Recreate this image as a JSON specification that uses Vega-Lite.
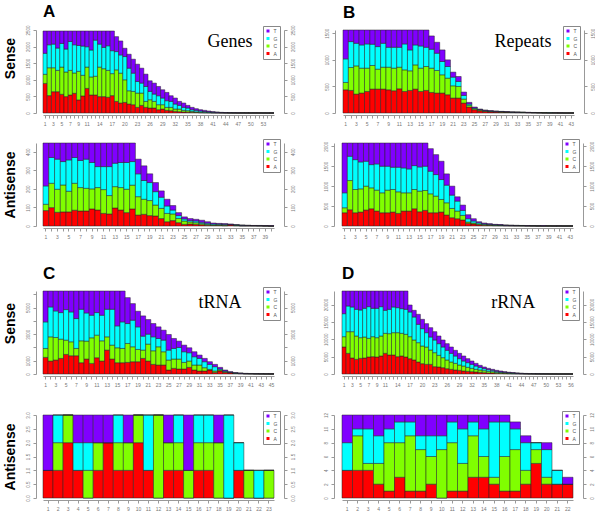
{
"$schema": "https://vega.github.io/schema/vega-lite/v6.json",
"padding": {"left": 3, "top": 2, "right": 0, "bottom": 0},
"background": "white",
"config": {
 "view": {"stroke": null},
 "font": "Liberation Sans",
 "axis": {"domainColor": "#999", "tickColor": "#999", "labelColor": "#777", "labelFont": "Liberation Sans", "grid": false, "tickSize": 3, "domainWidth": 1, "tickWidth": 1},
 "axisX": {"labelFontSize": 5, "labelAngle": 0, "offset": 2, "labelPadding": 3, "title": null, "labelOverlap": false},
 "axisY": {"labelFontSize": 4.5, "labelAngle": -90, "labelPadding": 3, "labelOverlap": false},
 "axisLeft": {"offset": 7, "labelBaseline": "bottom", "labelAlign": "center", "titleFontSize": 14, "titleFontWeight": "bold", "titleColor": "black", "titlePadding": 8, "titleFont": "Liberation Sans"},
 "axisRight": {"offset": 10, "labelBaseline": "top", "labelAlign": "center"},
 "legend": {"orient": "none", "legendX": 220, "legendY": -4, "symbolType": "square", "symbolSize": 9, "labelFontSize": 5, "labelColor": "#555", "labelOffset": 3, "padding": 2.5, "rowPadding": 1.5, "strokeColor": "#888", "fillColor": "white", "symbolStrokeWidth": 0},
 "title": {"anchor": "start", "frame": "group", "fontSize": 17, "fontWeight": "bold", "font": "Liberation Sans", "color": "black", "offset": 4}
},
"datasets": {
 "as": [
  {"p":1,"A":890,"C":276,"G":632,"T":672},{"p":2,"A":524,"C":839,"G":692,"T":415},{"p":3,"A":642,"C":721,"G":712,"T":395},{"p":4,"A":642,"C":642,"G":672,"T":514},{"p":5,"A":563,"C":820,"G":712,"T":375},{"p":6,"A":494,"C":741,"G":692,"T":543},{"p":7,"A":543,"C":741,"G":870,"T":316},{"p":8,"A":593,"C":612,"G":850,"T":415},{"p":9,"A":395,"C":860,"G":780,"T":435},{"p":10,"A":514,"C":622,"G":880,"T":454},
  {"p":11,"A":741,"C":642,"G":613,"T":474},{"p":12,"A":543,"C":544,"G":810,"T":573},{"p":13,"A":543,"C":564,"G":1087,"T":276},{"p":14,"A":494,"C":889,"G":692,"T":395},{"p":15,"A":494,"C":840,"G":642,"T":494},{"p":16,"A":474,"C":810,"G":741,"T":445},{"p":17,"A":524,"C":662,"G":691,"T":593},{"p":18,"A":350,"C":950,"G":550,"T":450},{"p":19,"A":300,"C":900,"G":550,"T":420},{"p":20,"A":320,"C":680,"G":700,"T":250},
  {"p":21,"A":270,"C":400,"G":680,"T":420},{"p":22,"A":250,"C":400,"G":550,"T":420},{"p":23,"A":170,"C":430,"G":350,"T":520},{"p":24,"A":230,"C":370,"G":300,"T":450},{"p":25,"A":170,"C":180,"G":450,"T":370},{"p":26,"A":150,"C":250,"G":250,"T":320},{"p":27,"A":150,"C":200,"G":220,"T":330},{"p":28,"A":100,"C":150,"G":270,"T":280},{"p":29,"A":120,"C":130,"G":200,"T":250},{"p":30,"A":80,"C":90,"G":200,"T":250},
  {"p":31,"A":70,"C":100,"G":180,"T":170},{"p":32,"A":50,"C":70,"G":150,"T":180},{"p":33,"A":40,"C":80,"G":110,"T":120},{"p":34,"A":30,"C":50,"G":90,"T":130},{"p":35,"A":25,"C":45,"G":80,"T":80},{"p":36,"A":20,"C":30,"G":50,"T":70},{"p":37,"A":15,"C":20,"G":45,"T":50},{"p":38,"A":10,"C":15,"G":35,"T":40},{"p":39,"A":8,"C":12,"G":25,"T":35},{"p":40,"A":6,"C":9,"G":20,"T":25},
  {"p":41,"A":5,"C":5,"G":15,"T":15},{"p":42,"A":4,"C":4,"G":10,"T":12},{"p":43,"A":3,"C":3,"G":6,"T":8},{"p":44,"A":2,"C":2,"G":4,"T":7},{"p":45,"A":1,"C":2,"G":3,"T":4},{"p":46,"A":1,"C":1,"G":2,"T":3},{"p":47,"A":1,"C":0,"G":1,"T":3},{"p":48,"A":1,"C":1,"G":1,"T":1},{"p":49,"A":1,"C":0,"G":1,"T":1},{"p":50,"A":0,"C":1,"G":1,"T":1},
  {"p":51,"A":1,"C":0,"G":0,"T":1},{"p":52,"A":0,"C":1,"G":0,"T":1},{"p":53,"A":0,"C":0,"G":1,"T":1},{"p":54,"A":0,"C":0,"G":0,"T":1},{"p":55,"A":0,"C":0,"G":0,"T":1}
 ],
 "aa": [
  {"p":1,"A":83,"C":34,"G":99,"T":231},{"p":2,"A":99,"C":131,"G":139,"T":78},{"p":3,"A":74,"C":124,"G":162,"T":87},{"p":4,"A":76,"C":145,"G":126,"T":100},{"p":5,"A":76,"C":111,"G":169,"T":91},{"p":6,"A":85,"C":145,"G":139,"T":78},{"p":7,"A":81,"C":126,"G":146,"T":94},{"p":8,"A":81,"C":122,"G":157,"T":87},{"p":9,"A":92,"C":108,"G":142,"T":105},{"p":10,"A":86,"C":121,"G":113,"T":127},
  {"p":11,"A":68,"C":128,"G":124,"T":127},{"p":12,"A":65,"C":99,"G":156,"T":127},{"p":13,"A":97,"C":115,"G":126,"T":109},{"p":14,"A":86,"C":121,"G":135,"T":105},{"p":15,"A":72,"C":126,"G":144,"T":105},{"p":16,"A":92,"C":128,"G":127,"T":100},{"p":17,"A":59,"C":99,"G":123,"T":79},{"p":18,"A":63,"C":81,"G":101,"T":79},{"p":19,"A":56,"C":81,"G":97,"T":47},{"p":20,"A":54,"C":59,"G":72,"T":49},
  {"p":21,"A":40,"C":55,"G":60,"T":34},{"p":22,"A":23,"C":45,"G":40,"T":36},{"p":23,"A":29,"C":36,"G":21,"T":24},{"p":24,"A":18,"C":23,"G":15,"T":16},{"p":25,"A":9,"C":18,"G":11,"T":11},{"p":26,"A":11,"C":11,"G":7,"T":11},{"p":27,"A":9,"C":9,"G":9,"T":9},{"p":28,"A":7,"C":6,"G":7,"T":11},{"p":29,"A":4,"C":5,"G":6,"T":8},{"p":30,"A":3,"C":3,"G":5,"T":5},
  {"p":31,"A":3,"C":3,"G":4,"T":4},{"p":32,"A":2,"C":3,"G":4,"T":4},{"p":33,"A":6,"C":1,"G":1,"T":3},{"p":34,"A":2,"C":2,"G":2,"T":1},{"p":35,"A":1,"C":1,"G":2,"T":1},{"p":36,"A":1,"C":1,"G":1,"T":1},{"p":37,"A":1,"C":1,"G":0,"T":1},{"p":38,"A":1,"C":0,"G":1,"T":1},{"p":39,"A":0,"C":1,"G":0,"T":1},{"p":40,"A":0,"C":0,"G":0,"T":1}
 ],
 "bs": [
  {"p":1,"A":437,"C":138,"G":444,"T":543},{"p":2,"A":425,"C":431,"G":488,"T":218},{"p":3,"A":356,"C":531,"G":425,"T":250},{"p":4,"A":375,"C":469,"G":437,"T":281},{"p":5,"A":406,"C":438,"G":456,"T":262},{"p":6,"A":450,"C":444,"G":400,"T":268},{"p":7,"A":450,"C":375,"G":425,"T":312},{"p":8,"A":450,"C":412,"G":450,"T":250},{"p":9,"A":437,"C":425,"G":375,"T":325},{"p":10,"A":419,"C":425,"G":393,"T":325},
  {"p":11,"A":456,"C":406,"G":375,"T":325},{"p":12,"A":406,"C":406,"G":488,"T":262},{"p":13,"A":425,"C":369,"G":393,"T":375},{"p":14,"A":450,"C":456,"G":375,"T":281},{"p":15,"A":406,"C":438,"G":418,"T":300},{"p":16,"A":425,"C":450,"G":362,"T":325},{"p":17,"A":387,"C":457,"G":356,"T":250},{"p":18,"A":375,"C":425,"G":325,"T":206},{"p":19,"A":375,"C":344,"G":250,"T":218},{"p":20,"A":344,"C":312,"G":219,"T":125},
  {"p":21,"A":281,"C":231,"G":163,"T":94},{"p":22,"A":281,"C":219,"G":94,"T":93},{"p":23,"A":187,"C":75,"G":69,"T":63},{"p":24,"A":112,"C":32,"G":25,"T":31},{"p":25,"A":62,"C":19,"G":13,"T":18},{"p":26,"A":40,"C":15,"G":10,"T":10},{"p":27,"A":28,"C":10,"G":10,"T":8},{"p":28,"A":22,"C":8,"G":7,"T":7},{"p":29,"A":18,"C":7,"G":6,"T":6},{"p":30,"A":15,"C":6,"G":5,"T":5},
  {"p":31,"A":12,"C":5,"G":4,"T":4},{"p":32,"A":9,"C":4,"G":4,"T":3},{"p":33,"A":8,"C":4,"G":3,"T":3},{"p":34,"A":7,"C":3,"G":3,"T":2},{"p":35,"A":5,"C":3,"G":2,"T":2},{"p":36,"A":4,"C":2,"G":2,"T":2},{"p":37,"A":3,"C":2,"G":1,"T":1},{"p":38,"A":2,"C":1,"G":1,"T":1},{"p":39,"A":1,"C":1,"G":1,"T":1},{"p":40,"A":1,"C":1,"G":0,"T":1},
  {"p":41,"A":1,"C":0,"G":0,"T":1},{"p":42,"A":0,"C":0,"G":0,"T":1},{"p":43,"A":0,"C":0,"G":0,"T":1}
 ],
 "ba": [
  {"p":1,"A":333,"C":125,"G":375,"T":1250},{"p":2,"A":408,"C":733,"G":609,"T":333},{"p":3,"A":333,"C":583,"G":750,"T":417},{"p":4,"A":350,"C":583,"G":675,"T":475},{"p":5,"A":400,"C":600,"G":625,"T":458},{"p":6,"A":433,"C":525,"G":583,"T":542},{"p":7,"A":375,"C":525,"G":658,"T":525},{"p":8,"A":333,"C":500,"G":667,"T":583},{"p":9,"A":333,"C":567,"G":600,"T":583},{"p":10,"A":350,"C":566,"G":559,"T":608},
  {"p":11,"A":316,"C":542,"G":617,"T":608},{"p":12,"A":375,"C":458,"G":625,"T":625},{"p":13,"A":375,"C":458,"G":600,"T":650},{"p":14,"A":433,"C":483,"G":600,"T":567},{"p":15,"A":358,"C":517,"G":608,"T":600},{"p":16,"A":392,"C":499,"G":609,"T":583},{"p":17,"A":333,"C":475,"G":567,"T":566},{"p":18,"A":333,"C":417,"G":541,"T":500},{"p":19,"A":350,"C":316,"G":500,"T":459},{"p":20,"A":275,"C":308,"G":442,"T":283},
  {"p":21,"A":208,"C":233,"G":334,"T":225},{"p":22,"A":183,"C":192,"G":250,"T":108},{"p":23,"A":150,"C":116,"G":125,"T":134},{"p":24,"A":67,"C":33,"G":83,"T":100},{"p":25,"A":50,"C":25,"G":50,"T":58},{"p":26,"A":30,"C":20,"G":30,"T":28},{"p":27,"A":20,"C":15,"G":20,"T":20},{"p":28,"A":15,"C":12,"G":15,"T":16},{"p":29,"A":10,"C":10,"G":11,"T":11},{"p":30,"A":9,"C":8,"G":9,"T":9},
  {"p":31,"A":6,"C":6,"G":7,"T":6},{"p":32,"A":5,"C":5,"G":5,"T":5},{"p":33,"A":4,"C":4,"G":5,"T":4},{"p":34,"A":4,"C":3,"G":4,"T":3},{"p":35,"A":3,"C":2,"G":3,"T":2},{"p":36,"A":2,"C":2,"G":2,"T":1},{"p":37,"A":1,"C":1,"G":2,"T":1},{"p":38,"A":1,"C":1,"G":1,"T":1},{"p":39,"A":1,"C":1,"G":0,"T":1},{"p":40,"A":0,"C":1,"G":0,"T":1},
  {"p":41,"A":1,"C":0,"G":0,"T":1},{"p":42,"A":0,"C":0,"G":0,"T":1},{"p":43,"A":0,"C":0,"G":0,"T":1}
 ],
 "cs": [
  {"p":1,"A":1250,"C":675,"G":2000,"T":2325},{"p":2,"A":975,"C":1825,"G":2250,"T":1200},{"p":3,"A":1050,"C":1700,"G":2000,"T":1500},{"p":4,"A":1175,"C":1450,"G":2000,"T":1625},{"p":5,"A":1475,"C":1075,"G":2300,"T":1400},{"p":6,"A":1375,"C":1050,"G":2250,"T":1575},{"p":7,"A":1375,"C":550,"G":2250,"T":2075},{"p":8,"A":850,"C":1650,"G":2375,"T":1375},{"p":9,"A":1125,"C":1350,"G":2125,"T":1650},{"p":10,"A":800,"C":1925,"G":1700,"T":1825},
  {"p":11,"A":1225,"C":1700,"G":1700,"T":1625},{"p":12,"A":975,"C":1525,"G":1925,"T":1825},{"p":13,"A":1800,"C":1000,"G":2075,"T":1375},{"p":14,"A":1125,"C":1050,"G":2700,"T":1375},{"p":15,"A":850,"C":1125,"G":1650,"T":2625},{"p":16,"A":850,"C":1075,"G":2000,"T":2325},{"p":17,"A":875,"C":1425,"G":1500,"T":1950},{"p":18,"A":925,"C":1125,"G":2000,"T":1250},{"p":19,"A":925,"C":925,"G":1700,"T":1175},{"p":20,"A":1175,"C":625,"G":1050,"T":1525},
  {"p":21,"A":975,"C":1275,"G":750,"T":1100},{"p":22,"A":725,"C":1025,"G":1050,"T":1000},{"p":23,"A":675,"C":1375,"G":625,"T":875},{"p":24,"A":675,"C":1000,"G":875,"T":750},{"p":25,"A":300,"C":750,"G":750,"T":1175},{"p":26,"A":425,"C":700,"G":800,"T":750},{"p":27,"A":375,"C":750,"G":875,"T":475},{"p":28,"A":375,"C":500,"G":800,"T":500},{"p":29,"A":500,"C":475,"G":625,"T":375},{"p":30,"A":300,"C":375,"G":625,"T":375},
  {"p":31,"A":225,"C":450,"G":500,"T":250},{"p":32,"A":225,"C":250,"G":450,"T":250},{"p":33,"A":300,"C":50,"G":375,"T":200},{"p":34,"A":125,"C":100,"G":325,"T":175},{"p":35,"A":225,"C":75,"G":75,"T":125},{"p":36,"A":125,"C":50,"G":50,"T":75},{"p":37,"A":90,"C":20,"G":25,"T":40},{"p":38,"A":40,"C":20,"G":20,"T":20},{"p":39,"A":25,"C":15,"G":15,"T":20},{"p":40,"A":15,"C":10,"G":10,"T":15},
  {"p":41,"A":12,"C":8,"G":10,"T":10},{"p":42,"A":8,"C":6,"G":8,"T":8},{"p":43,"A":6,"C":5,"G":5,"T":6},{"p":44,"A":4,"C":3,"G":4,"T":4},{"p":45,"A":3,"C":2,"G":2,"T":3}
 ],
 "ds": [
  {"p":1,"A":7776,"C":2976,"G":6624,"T":6524},{"p":2,"A":5952,"C":6240,"G":7392,"T":4316},{"p":3,"A":4608,"C":7584,"G":7104,"T":4604},{"p":4,"A":4224,"C":6720,"G":7680,"T":5276},{"p":5,"A":4512,"C":5952,"G":7968,"T":5468},{"p":6,"A":4608,"C":6048,"G":8256,"T":4988},{"p":7,"A":4896,"C":5376,"G":9120,"T":4508},{"p":8,"A":4992,"C":5760,"G":8160,"T":4988},{"p":9,"A":4896,"C":5568,"G":8448,"T":4988},{"p":10,"A":5184,"C":5760,"G":8448,"T":4508},
  {"p":11,"A":5952,"C":5760,"G":6624,"T":5564},{"p":12,"A":5472,"C":6144,"G":7008,"T":5276},{"p":13,"A":5472,"C":6432,"G":7392,"T":4604},{"p":14,"A":4992,"C":6912,"G":7200,"T":4796},{"p":15,"A":5184,"C":6528,"G":7104,"T":5084},{"p":16,"A":4896,"C":6528,"G":7200,"T":5276},{"p":17,"A":4416,"C":6336,"G":7104,"T":2016},{"p":18,"A":4032,"C":5760,"G":6624,"T":1920},{"p":19,"A":3456,"C":5568,"G":5280,"T":2880},{"p":20,"A":2976,"C":5088,"G":4992,"T":2688},
  {"p":21,"A":2784,"C":4992,"G":4128,"T":2592},{"p":22,"A":2784,"C":4128,"G":3744,"T":2688},{"p":23,"A":2112,"C":4032,"G":3648,"T":2400},{"p":24,"A":2016,"C":3360,"G":3360,"T":2208},{"p":25,"A":1824,"C":2880,"G":3072,"T":2016},{"p":26,"A":1536,"C":2496,"G":2784,"T":1920},{"p":27,"A":1344,"C":2112,"G":2496,"T":1824},{"p":28,"A":1152,"C":1920,"G":2112,"T":1632},{"p":29,"A":1056,"C":1536,"G":1824,"T":1536},{"p":30,"A":864,"C":1440,"G":1440,"T":1440},
  {"p":31,"A":768,"C":1152,"G":1344,"T":1152},{"p":32,"A":672,"C":960,"G":1152,"T":960},{"p":33,"A":576,"C":768,"G":960,"T":768},{"p":34,"A":480,"C":672,"G":768,"T":576},{"p":35,"A":384,"C":576,"G":576,"T":480},{"p":36,"A":288,"C":480,"G":480,"T":384},{"p":37,"A":288,"C":384,"G":384,"T":288},{"p":38,"A":192,"C":288,"G":288,"T":288},{"p":39,"A":160,"C":240,"G":200,"T":264},{"p":40,"A":130,"C":190,"G":160,"T":192},
  {"p":41,"A":100,"C":140,"G":130,"T":150},{"p":42,"A":80,"C":110,"G":100,"T":110},{"p":43,"A":60,"C":80,"G":80,"T":80},{"p":44,"A":45,"C":55,"G":60,"T":70},{"p":45,"A":35,"C":45,"G":40,"T":50},{"p":46,"A":25,"C":35,"G":30,"T":40},{"p":47,"A":20,"C":25,"G":25,"T":30},{"p":48,"A":15,"C":20,"G":20,"T":25},{"p":49,"A":12,"C":16,"G":14,"T":18},{"p":50,"A":10,"C":12,"G":11,"T":12},
  {"p":51,"A":8,"C":8,"G":8,"T":8},{"p":52,"A":5,"C":5,"G":5,"T":5},{"p":53,"A":3,"C":3,"G":3,"T":3},{"p":54,"A":2,"C":2,"G":2,"T":2},{"p":55,"A":1,"C":1,"G":1,"T":2},{"p":56,"A":0,"C":1,"G":1,"T":1}
 ],
 "ca": [
  {"p":1,"A":1,"C":0,"G":0,"T":2},{"p":2,"A":1,"C":1,"G":1,"T":0},{"p":3,"A":2,"C":1,"G":0,"T":0},{"p":4,"A":1,"C":0,"G":1,"T":1},{"p":5,"A":0,"C":1,"G":1,"T":1},{"p":6,"A":1,"C":1,"G":0,"T":1},{"p":7,"A":2,"C":0,"G":0,"T":1},{"p":8,"A":1,"C":1,"G":1,"T":0},{"p":9,"A":1,"C":1,"G":0,"T":1},{"p":10,"A":2,"C":1,"G":0,"T":0},
  {"p":11,"A":1,"C":0,"G":2,"T":0},{"p":12,"A":0,"C":3,"G":0,"T":0},{"p":13,"A":1,"C":1,"G":0,"T":1},{"p":14,"A":1,"C":1,"G":1,"T":0},{"p":15,"A":0,"C":1,"G":0,"T":2},{"p":16,"A":1,"C":1,"G":1,"T":0},{"p":17,"A":1,"C":1,"G":1,"T":0},{"p":18,"A":0,"C":2,"G":0,"T":1},{"p":19,"A":0,"C":0,"G":3,"T":0},{"p":20,"A":1,"C":0,"G":1,"T":0},
  {"p":21,"A":0,"C":1,"G":0,"T":0},{"p":22,"A":0,"C":0,"G":1,"T":0},{"p":23,"A":0,"C":1,"G":0,"T":0}
 ],
 "da": [
  {"p":1,"A":4,"C":0,"G":4,"T":4},{"p":2,"A":4,"C":5,"G":1,"T":2},{"p":3,"A":4,"C":1,"G":5,"T":2},{"p":4,"A":2,"C":3,"G":4,"T":3},{"p":5,"A":1,"C":7,"G":2,"T":2},{"p":6,"A":3,"C":5,"G":3,"T":1},{"p":7,"A":1,"C":8,"G":2,"T":1},{"p":8,"A":1,"C":6,"G":2,"T":3},{"p":9,"A":2,"C":4,"G":3,"T":3},{"p":10,"A":0,"C":7,"G":2,"T":3},
  {"p":11,"A":1,"C":7,"G":3,"T":1},{"p":12,"A":1,"C":4,"G":5,"T":2},{"p":13,"A":3,"C":6,"G":2,"T":1},{"p":14,"A":3,"C":3,"G":4,"T":2},{"p":15,"A":2,"C":1,"G":8,"T":1},{"p":16,"A":1,"C":5,"G":5,"T":1},{"p":17,"A":1,"C":6,"G":3,"T":1},{"p":18,"A":2,"C":2,"G":4,"T":1},{"p":19,"A":5,"C":2,"G":1,"T":0},{"p":20,"A":2,"C":1,"G":4,"T":1},
  {"p":21,"A":2,"C":0,"G":2,"T":0},{"p":22,"A":2,"C":0,"G":0,"T":1}
 ]
},
"resolve": {"scale": {"color": "independent"}, "legend": {"color": "independent"}},
"spacing": 25,
"vconcat": [
 {"resolve": {"scale": {"color": "independent"}, "legend": {"color": "independent"}},
  "spacing": 12,
  "vconcat": [
   {"resolve": {"scale": {"color": "independent"}, "legend": {"color": "independent"}},
    "spacing": 28,
    "hconcat": [
     {"width": 231, "height": 83, "title": {"text": "A"}, "data": {"name": "as"},
      "layer": [
       {"transform": [{"fold": ["A","C","G","T"], "as": ["base","n"]}],
        "mark": {"type": "bar", "stroke": "#222", "strokeWidth": 0.5},
        "encoding": {
         "x": {"field": "p", "type": "ordinal", "scale": {"paddingInner": 0, "paddingOuter": 0}, "axis": {"labelExpr": "(datum.value <= 11 ? datum.value % 2 == 1 : (datum.value - 11) % 3 == 0) ? datum.label : ''"}},
         "y": {"field": "n", "type": "quantitative", "stack": "zero", "scale": {"domain": [0,2500], "nice": false}, "axis": {"orient": "left", "title": "Sense", "titleY": 28, "format": "d", "values": [0,500,1000,1500,2000,2500]}},
         "color": {"field": "base", "type": "nominal", "scale": {"domain": ["T","G","C","A"], "range": ["#8000FF","#00FFFF","#80FF00","#FF0000"]}, "legend": {"title": null}},
         "order": {"field": "base", "sort": "ascending"}}},
       {"mark": {"type": "tick", "opacity": 0},
        "encoding": {"y": {"field": "T", "type": "quantitative", "scale": {"domain": [0,2500], "nice": false}, "axis": {"orient": "right", "title": null, "format": "d", "values": [0,500,1000,1500,2000,2500]}}}},
       {"data": {"values": [{}]}, "mark": {"type": "text", "font": "Liberation Serif", "fontSize": 18},
        "encoding": {"x": {"datum": 45, "type": "ordinal"}, "y": {"datum": 2150, "type": "quantitative", "axis": null}, "text": {"value": "Genes"}}}
      ],
      "resolve": {"axis": {"y": "independent"}}},
     {"width": 231, "height": 83, "title": {"text": "B"}, "data": {"name": "bs"},
      "layer": [
       {"transform": [{"fold": ["A","C","G","T"], "as": ["base","n"]}],
        "mark": {"type": "bar", "stroke": "#222", "strokeWidth": 0.5},
        "encoding": {
         "x": {"field": "p", "type": "ordinal", "scale": {"paddingInner": 0, "paddingOuter": 0}, "axis": {"labelExpr": "datum.value % 2 == 1 ? datum.label : ''"}},
         "y": {"field": "n", "type": "quantitative", "stack": "zero", "scale": {"domain": [0,1562], "nice": false}, "axis": {"orient": "left", "title": null, "offset": 8, "format": "d", "values": [0,500,1000,1500]}},
         "color": {"field": "base", "type": "nominal", "scale": {"domain": ["T","G","C","A"], "range": ["#8000FF","#00FFFF","#80FF00","#FF0000"]}, "legend": {"title": null}},
         "order": {"field": "base", "sort": "ascending"}}},
       {"mark": {"type": "tick", "opacity": 0},
        "encoding": {"y": {"field": "T", "type": "quantitative", "scale": {"domain": [0,1562], "nice": false}, "axis": {"orient": "right", "title": null, "format": "d", "values": [0,500,1000,1500]}}}},
       {"data": {"values": [{}]}, "mark": {"type": "text", "font": "Liberation Serif", "fontSize": 18},
        "encoding": {"x": {"datum": 34, "type": "ordinal"}, "y": {"datum": 1330, "type": "quantitative", "axis": null}, "text": {"value": "Repeats"}}}
      ],
      "resolve": {"axis": {"y": "independent"}}}
    ]},
   {"resolve": {"scale": {"color": "independent"}, "legend": {"color": "independent"}},
    "spacing": 28,
    "hconcat": [
     {"width": 231, "height": 83, "data": {"name": "aa"},
      "layer": [
       {"transform": [{"fold": ["A","C","G","T"], "as": ["base","n"]}],
        "mark": {"type": "bar", "stroke": "#222", "strokeWidth": 0.5},
        "encoding": {
         "x": {"field": "p", "type": "ordinal", "scale": {"paddingInner": 0, "paddingOuter": 0}, "axis": {"labelExpr": "datum.value % 2 == 1 ? datum.label : ''"}},
         "y": {"field": "n", "type": "quantitative", "stack": "zero", "scale": {"domain": [0,447], "nice": false}, "axis": {"orient": "left", "title": "Antisense", "format": "d", "values": [0,100,200,300,400]}},
         "color": {"field": "base", "type": "nominal", "scale": {"domain": ["T","G","C","A"], "range": ["#8000FF","#00FFFF","#80FF00","#FF0000"]}, "legend": {"title": null}},
         "order": {"field": "base", "sort": "ascending"}}},
       {"mark": {"type": "tick", "opacity": 0},
        "encoding": {"y": {"field": "T", "type": "quantitative", "scale": {"domain": [0,447], "nice": false}, "axis": {"orient": "right", "title": null, "format": "d", "values": [0,100,200,300,400]}}}}
      ],
      "resolve": {"axis": {"y": "independent"}}},
     {"width": 231, "height": 83, "data": {"name": "ba"},
      "layer": [
       {"transform": [{"fold": ["A","C","G","T"], "as": ["base","n"]}],
        "mark": {"type": "bar", "stroke": "#222", "strokeWidth": 0.5},
        "encoding": {
         "x": {"field": "p", "type": "ordinal", "scale": {"paddingInner": 0, "paddingOuter": 0}, "axis": {"labelExpr": "datum.value % 2 == 1 ? datum.label : ''"}},
         "y": {"field": "n", "type": "quantitative", "stack": "zero", "scale": {"domain": [0,2083], "nice": false}, "axis": {"orient": "left", "title": null, "offset": 8, "format": "d", "values": [0,500,1000,1500,2000]}},
         "color": {"field": "base", "type": "nominal", "scale": {"domain": ["T","G","C","A"], "range": ["#8000FF","#00FFFF","#80FF00","#FF0000"]}, "legend": {"title": null}},
         "order": {"field": "base", "sort": "ascending"}}},
       {"mark": {"type": "tick", "opacity": 0},
        "encoding": {"y": {"field": "T", "type": "quantitative", "scale": {"domain": [0,2083], "nice": false}, "axis": {"orient": "right", "title": null, "format": "d", "values": [0,500,1000,1500,2000]}}}}
      ],
      "resolve": {"axis": {"y": "independent"}}}
    ]}
  ]},
 {"resolve": {"scale": {"color": "independent"}, "legend": {"color": "independent"}},
  "spacing": 23,
  "vconcat": [
   {"resolve": {"scale": {"color": "independent"}, "legend": {"color": "independent"}},
    "spacing": 28,
    "hconcat": [
     {"width": 231, "height": 83, "title": {"text": "C"}, "data": {"name": "cs"},
      "layer": [
       {"transform": [{"fold": ["A","C","G","T"], "as": ["base","n"]}],
        "mark": {"type": "bar", "stroke": "#222", "strokeWidth": 0.5},
        "encoding": {
         "x": {"field": "p", "type": "ordinal", "scale": {"paddingInner": 0, "paddingOuter": 0}, "axis": {"labelExpr": "datum.value % 2 == 1 ? datum.label : ''"}},
         "y": {"field": "n", "type": "quantitative", "stack": "zero", "scale": {"domain": [0,6250], "nice": false}, "axis": {"orient": "left", "title": "Sense", "titleY": 32, "values": [0,1000,2000,3000,4000,5000,6000], "labelExpr": "datum.value % 2000 == 1000 || datum.value == 0 ? '' + datum.value : ''"}},
         "color": {"field": "base", "type": "nominal", "scale": {"domain": ["T","G","C","A"], "range": ["#8000FF","#00FFFF","#80FF00","#FF0000"]}, "legend": {"title": null}},
         "order": {"field": "base", "sort": "ascending"}}},
       {"mark": {"type": "tick", "opacity": 0},
        "encoding": {"y": {"field": "T", "type": "quantitative", "scale": {"domain": [0,6250], "nice": false}, "axis": {"orient": "right", "title": null, "values": [0,1000,2000,3000,4000,5000,6000], "labelExpr": "datum.value % 2000 == 1000 || datum.value == 0 ? '' + datum.value : ''"}}}},
       {"data": {"values": [{}]}, "mark": {"type": "text", "font": "Liberation Serif", "fontSize": 18},
        "encoding": {"x": {"datum": 35, "type": "ordinal"}, "y": {"datum": 5350, "type": "quantitative", "axis": null}, "text": {"value": "tRNA"}}}
      ],
      "resolve": {"axis": {"y": "independent"}}},
     {"width": 231, "height": 83, "title": {"text": "D"}, "data": {"name": "ds"},
      "layer": [
       {"transform": [{"fold": ["A","C","G","T"], "as": ["base","n"]}],
        "mark": {"type": "bar", "stroke": "#222", "strokeWidth": 0.5},
        "encoding": {
         "x": {"field": "p", "type": "ordinal", "scale": {"paddingInner": 0, "paddingOuter": 0}, "axis": {"labelExpr": "(datum.value <= 11 ? datum.value % 2 == 1 : (datum.value - 11) % 3 == 0) ? datum.label : ''"}},
         "y": {"field": "n", "type": "quantitative", "stack": "zero", "scale": {"domain": [0,23900], "nice": false}, "axis": {"orient": "left", "title": null, "offset": 8, "format": "d", "values": [0,5000,10000,15000,20000]}},
         "color": {"field": "base", "type": "nominal", "scale": {"domain": ["T","G","C","A"], "range": ["#8000FF","#00FFFF","#80FF00","#FF0000"]}, "legend": {"title": null}},
         "order": {"field": "base", "sort": "ascending"}}},
       {"mark": {"type": "tick", "opacity": 0},
        "encoding": {"y": {"field": "T", "type": "quantitative", "scale": {"domain": [0,23900], "nice": false}, "axis": {"orient": "right", "title": null, "format": "d", "values": [0,5000,10000,15000,20000]}}}},
       {"data": {"values": [{}]}, "mark": {"type": "text", "font": "Liberation Serif", "fontSize": 18},
        "encoding": {"x": {"datum": 42, "type": "ordinal"}, "y": {"datum": 20500, "type": "quantitative", "axis": null}, "text": {"value": "rRNA"}}}
      ],
      "resolve": {"axis": {"y": "independent"}}}
    ]},
   {"resolve": {"scale": {"color": "independent"}, "legend": {"color": "independent"}},
    "spacing": 28,
    "hconcat": [
     {"width": 231, "height": 83, "data": {"name": "ca"},
      "layer": [
       {"transform": [{"fold": ["A","C","G","T"], "as": ["base","n"]}],
        "mark": {"type": "bar", "stroke": "#222", "strokeWidth": 0.5},
        "encoding": {
         "x": {"field": "p", "type": "ordinal", "scale": {"paddingInner": 0, "paddingOuter": 0}},
         "y": {"field": "n", "type": "quantitative", "stack": "zero", "scale": {"domain": [0,3], "nice": false}, "axis": {"orient": "left", "title": "Antisense", "format": ".1f", "values": [0,0.5,1,1.5,2,2.5,3]}},
         "color": {"field": "base", "type": "nominal", "scale": {"domain": ["T","G","C","A"], "range": ["#8000FF","#00FFFF","#80FF00","#FF0000"]}, "legend": {"title": null}},
         "order": {"field": "base", "sort": "ascending"}}},
       {"mark": {"type": "tick", "opacity": 0},
        "encoding": {"y": {"field": "T", "type": "quantitative", "scale": {"domain": [0,3], "nice": false}, "axis": {"orient": "right", "title": null, "format": ".1f", "values": [0,0.5,1,1.5,2,2.5,3]}}}}
      ],
      "resolve": {"axis": {"y": "independent"}}},
     {"width": 231, "height": 83, "data": {"name": "da"},
      "layer": [
       {"transform": [{"fold": ["A","C","G","T"], "as": ["base","n"]}],
        "mark": {"type": "bar", "stroke": "#222", "strokeWidth": 0.5},
        "encoding": {
         "x": {"field": "p", "type": "ordinal", "scale": {"paddingInner": 0, "paddingOuter": 0}},
         "y": {"field": "n", "type": "quantitative", "stack": "zero", "scale": {"domain": [0,12], "nice": false}, "axis": {"orient": "left", "title": null, "offset": 8, "format": "d", "values": [0,2,4,6,8,10,12]}},
         "color": {"field": "base", "type": "nominal", "scale": {"domain": ["T","G","C","A"], "range": ["#8000FF","#00FFFF","#80FF00","#FF0000"]}, "legend": {"title": null}},
         "order": {"field": "base", "sort": "ascending"}}},
       {"mark": {"type": "tick", "opacity": 0},
        "encoding": {"y": {"field": "T", "type": "quantitative", "scale": {"domain": [0,12], "nice": false}, "axis": {"orient": "right", "title": null, "format": "d", "values": [0,2,4,6,8,10,12]}}}}
      ],
      "resolve": {"axis": {"y": "independent"}}}
    ]}
  ]}
]
}
